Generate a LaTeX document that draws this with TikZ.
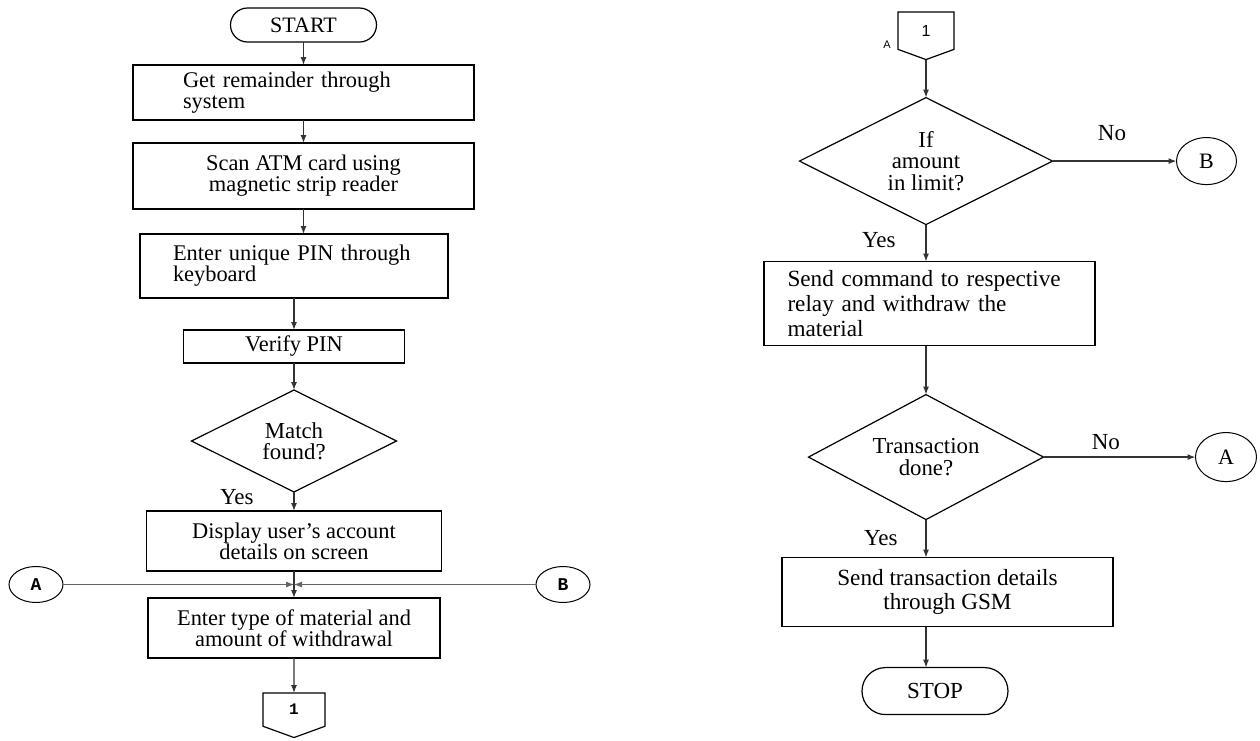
\documentclass[tikz,border=0pt]{standalone}
\usepackage{fontspec}
\setmainfont{Liberation Serif}
\newfontfamily\connfont{Liberation Mono}
\newfontfamily\pagefont{Liberation Sans}
\usepackage{tikz}
\usetikzlibrary{positioning, calc, shapes.geometric, shapes.misc, shapes.symbols, arrows.meta}

\begin{document}
\begin{tikzpicture}[
    x=1pt, y=1pt,
    procbox/.style={rectangle, draw, line width=0.8pt, align=center, inner sep=2pt,
                    outer sep=0pt, font=\fontsize{11.2}{10.6}\selectfont},
    cmdbox/.style={procbox, font=\fontsize{11.6}{12.3}\selectfont},
    decision/.style={diamond, draw, line width=0.6pt, shape aspect=2, inner sep=0pt,
                     outer sep=0pt, align=center, font=\fontsize{11.4}{10.6}\selectfont},
    terminal/.style={rounded rectangle, draw, line width=0.6pt, inner sep=0pt,
                     outer sep=0pt, minimum width=73pt, minimum height=17pt,
                     font=\fontsize{11}{11}\selectfont},
    inconn/.style={ellipse, draw, line width=0.5pt, inner sep=0pt, outer sep=0pt,
                   minimum width=27pt, minimum height=18pt,
                   font=\connfont\bfseries\fontsize{9}{9}\selectfont},
    outconn/.style={ellipse, draw, line width=0.5pt, inner sep=0pt, outer sep=0pt,
                    minimum width=30pt, minimum height=23.5pt,
                    font=\fontsize{11}{11}\selectfont},
    offpage/.style={signal, signal to=south, signal pointer angle=140, draw,
                    line width=0.6pt, inner sep=0pt, outer sep=0pt},
    lbl/.style={inner sep=0pt, font=\fontsize{11.5}{11.5}\selectfont},
    arrow/.style={-{Latex[length=4pt, width=3pt]}, line width=0.6pt, draw=black!80},
    joinline/.style={-{Latex[length=4pt, width=3pt]}, line width=0.4pt, draw=black!60},
  ]
    \useasboundingbox (0,0) rectangle (630,-370);

    % Left column: card and PIN check
    \node[terminal] (START) at (151.75,-12.5) {START};
    \node[procbox, minimum width=170.5pt, minimum height=27.5pt,
          text width=120.5pt, align=left, below=11.5pt of START] (REMIND)
          {Get remainder through\\system};
    \node[procbox, minimum width=170.5pt, minimum height=33pt,
          below=11.5pt of REMIND] (SCAN)
          {Scan ATM card using\\magnetic strip reader};
    \node[procbox, minimum width=154pt, minimum height=32pt,
          text width=121pt, align=left, below=12.5pt of SCAN, xshift=-4.75pt] (PIN)
          {Enter unique PIN through\\keyboard};
    \node[procbox, minimum width=110.5pt, minimum height=16.5pt,
          below=16pt of PIN] (VERIFY) {Verify PIN};
    \node[decision, minimum width=102.5pt, minimum height=51pt,
          below=13.5pt of VERIFY] (MATCH) {Match\\found?};
    \node[procbox, minimum width=147.5pt, minimum height=30pt,
          below=9.5pt of MATCH] (DISP) {Display user's account\\details on screen};
    \node[procbox, minimum width=146pt, minimum height=30pt,
          below=13.5pt of DISP] (ENTER) {Enter type of material and\\amount of withdrawal};
    \node[offpage, minimum width=31pt, minimum height=17.5pt,
          font=\connfont\bfseries\fontsize{8}{8}\selectfont,
          below=17.5pt of ENTER] (CONN1) {1};

    \draw[arrow] (START) -- (REMIND);
    \draw[arrow] (REMIND) -- (SCAN);
    \draw[arrow] (SCAN.south) -- (SCAN.south |- PIN.north);
    \draw[arrow] (PIN) -- (VERIFY);
    \draw[arrow] (VERIFY) -- (MATCH);
    \draw[arrow] (MATCH) -- (DISP);
    \draw[arrow] (DISP) -- (ENTER);
    \draw[arrow] (ENTER) -- (CONN1);
    \node[lbl, above left=3pt and 20pt of DISP.north] (YES1) {Yes};

    % Return points A and B
    \coordinate (JOIN) at ($(DISP.south)!0.5!(ENTER.north)$);
    \node[inconn, left=115.5pt of JOIN] (A_IN) {A};
    \node[inconn, right=121pt of JOIN] (B_IN) {B};
    \draw[joinline] (A_IN) -- (JOIN);
    \draw[joinline] (B_IN) -- (JOIN);

    % Right column: dispense and report
    \node[offpage, minimum width=28pt, minimum height=19.5pt, anchor=north,
          font=\pagefont\fontsize{8}{8}\selectfont] (CONN2) at (463,-6) {1};
    \node[font=\pagefont\fontsize{5.5}{5.5}\selectfont, inner sep=0pt,
          below left=5pt and 3.5pt of CONN2.west] (CONN2_TAG) {A};
    \node[decision, minimum width=126.5pt, minimum height=63.5pt,
          below=19pt of CONN2] (IFLIM) {If\\amount\\in limit?};
    \node[cmdbox, minimum width=165.5pt, minimum height=42pt,
          text width=142pt, align=left, below=18.5pt of IFLIM, xshift=1.75pt] (CMD)
          {Send command to respective\\relay and withdraw the\\material};
    \node[decision, minimum width=117.5pt, minimum height=62.5pt,
          below=24.5pt of CMD, xshift=-1.75pt] (DONE) {Transaction\\done?};
    \node[cmdbox, minimum width=165.5pt, minimum height=34.5pt,
          below=19pt of DONE, xshift=10.75pt] (GSM)
          {Send transaction details\\through GSM};
    \node[terminal, minimum width=73pt, minimum height=23.5pt,
          font=\fontsize{11.5}{11.5}\selectfont,
          below=20.5pt of GSM, xshift=-6.25pt] (STOP) {STOP};
    \node[outconn, right=62pt of IFLIM] (B_OUT) {B};
    \node[outconn, minimum width=30.5pt, minimum height=24.5pt,
          right=76pt of DONE] (A_OUT) {A};

    \draw[arrow] (CONN2) -- (IFLIM);
    \draw[arrow] (IFLIM.south) -- (IFLIM.south |- CMD.north);
    \draw[arrow] (DONE.north |- CMD.south) -- (DONE.north);
    \draw[arrow] (DONE.south) -- (DONE.south |- GSM.north);
    \draw[arrow] (DONE.south |- GSM.south) -- (DONE.south |- STOP.north);
    \draw[arrow] (IFLIM) -- node[lbl, above=10pt, pos=0.48] {No} (B_OUT);
    \draw[arrow] (DONE) -- node[lbl, above=3.5pt, pos=0.41] {No} (A_OUT);
    \node[lbl, below left=3.5pt and 15pt of IFLIM.south] (YES2) {Yes};
    \node[lbl, below left=5pt and 14pt of DONE.south] (YES3) {Yes};
  \end{tikzpicture}
\end{document}
